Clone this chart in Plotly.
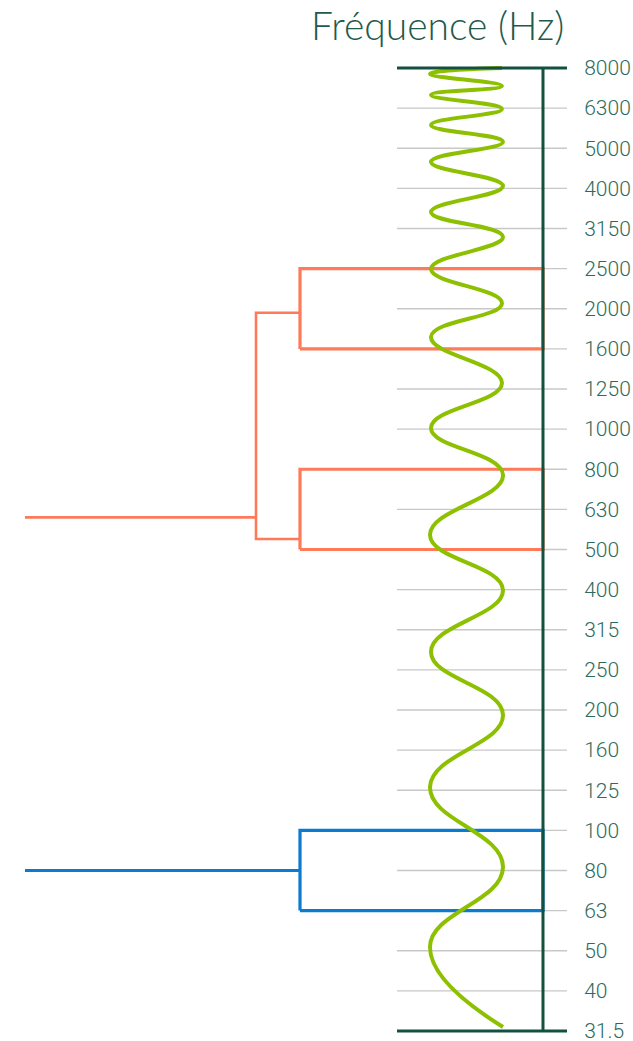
import plotly.graph_objects as go

# --- data ---
freq_labels = ["31.5", "40", "50", "63", "80", "100", "125", "160", "200", "250",
               "315", "400", "500", "630", "800", "1000", "1250", "1600", "2000",
               "2500", "3150", "4000", "5000", "6300", "8000"]
band_idx = list(range(len(freq_labels)))

# green wavy line: extrema (band index, horizontal position)
wave_y = [0.10, 2.09, 4.09, 6.08, 7.88, 9.45, 10.99, 12.36, 13.86, 15.03, 16.15,
          17.30, 18.14, 18.99, 19.79, 20.41, 21.06, 21.66, 22.16, 22.58, 22.98,
          23.33, 23.55, 23.85, 24.0]
wave_x = [503, 430, 503, 430, 503, 431, 503, 430, 503, 431, 502,
          431, 502, 431, 503, 431, 503, 431, 503, 431, 502,
          431, 502, 430, 502]

# boxes (band index ranges)
orange_boxes = [(17, 19), (12, 14)]
blue_box = (3, 5)
# bracket levels (band index)
bracket_top = 17.9
bracket_bottom = 12.26
bracket_stem = 12.8
blue_stem = 4.0

GREEN = "#8CC000"
ORANGE = "#FF7A59"
BLUE = "#0B7BD0"
DARK = "#12503F"
GRID = "#C8C8C8"
TXT = "#2F6B5B"

X_LEFT, X_BOX, X_BRACKET, X_GRID0, X_VLINE, X_END = 25, 300, 256, 397, 543, 567

W, H = 633, 1041

fig = go.Figure()

shapes = []
for i in band_idx[1:-1]:
    shapes.append(dict(type="line", x0=X_GRID0, x1=X_END, y0=i, y1=i,
                       line=dict(color=GRID, width=1.3), layer="below"))
for i in (band_idx[0], band_idx[-1]):
    shapes.append(dict(type="line", x0=X_GRID0, x1=X_END, y0=i, y1=i,
                       line=dict(color=DARK, width=3)))
shapes.append(dict(type="line", x0=X_VLINE, x1=X_VLINE, y0=band_idx[0], y1=band_idx[-1],
                   line=dict(color=DARK, width=3)))
fig.update_layout(shapes=shapes)

for lo, hi in orange_boxes:
    fig.add_trace(go.Scatter(x=[X_BOX, X_VLINE, X_VLINE, X_BOX, X_BOX],
                             y=[lo, lo, hi, hi, lo], mode="lines",
                             line=dict(color=ORANGE, width=3.2), hoverinfo="skip"))
fig.add_trace(go.Scatter(x=[X_BOX, X_BRACKET, X_BRACKET, X_BOX],
                         y=[bracket_top, bracket_top, bracket_bottom, bracket_bottom],
                         mode="lines", line=dict(color=ORANGE, width=2.6), hoverinfo="skip"))
fig.add_trace(go.Scatter(x=[X_LEFT, X_BRACKET], y=[bracket_stem, bracket_stem],
                         mode="lines", line=dict(color=ORANGE, width=2.8), hoverinfo="skip"))
lo, hi = blue_box
fig.add_trace(go.Scatter(x=[X_BOX, X_VLINE, X_VLINE, X_BOX, X_BOX],
                         y=[lo, lo, hi, hi, lo], mode="lines",
                         line=dict(color=BLUE, width=3.2), hoverinfo="skip"))
fig.add_trace(go.Scatter(x=[X_LEFT, X_BOX], y=[blue_stem, blue_stem],
                         mode="lines", line=dict(color=BLUE, width=3), hoverinfo="skip"))
fig.add_trace(go.Scatter(x=wave_x, y=wave_y, mode="lines",
                         line=dict(color=GREEN, width=4, shape="spline", smoothing=1.3),
                         hoverinfo="skip", cliponaxis=False))

px_per_band = (1031 - 68) / 24
pad = 0.15
t_margin = 68 - pad * px_per_band
b_margin = H - (1031 + pad * px_per_band)

fig.update_layout(
    width=W, height=H,
    margin=dict(l=0, r=W - X_END, t=t_margin, b=b_margin, pad=0, autoexpand=False),
    paper_bgcolor="white", plot_bgcolor="white",
    showlegend=False,
    xaxis=dict(range=[0, X_END], visible=False, fixedrange=True, automargin=False),
    yaxis=dict(range=[-pad, 24 + pad], side="right", tickmode="array",
               tickvals=band_idx, ticktext=freq_labels, automargin=False,
               ticks="outside", ticklen=12, tickcolor="rgba(0,0,0,0)",
               ticklabeloverflow="allow",
               showgrid=False, zeroline=False, showline=False,
               tickfont=dict(family="Roboto", size=21, color=TXT, weight=300),
               fixedrange=True),
    annotations=[dict(text="Fréquence (Hz)", xref="paper", yref="paper",
                      x=437 / X_END, y=1, yshift=t_margin,
                      xanchor="center", yanchor="top", showarrow=False,
                      font=dict(family="Lato", size=39, color="#1F5A4A", weight=300))],
)

fig.write_html("out.html", config={"displayModeBar": False},
               post_script="document.body.style.margin='0';document.body.style.overflow='hidden';")
